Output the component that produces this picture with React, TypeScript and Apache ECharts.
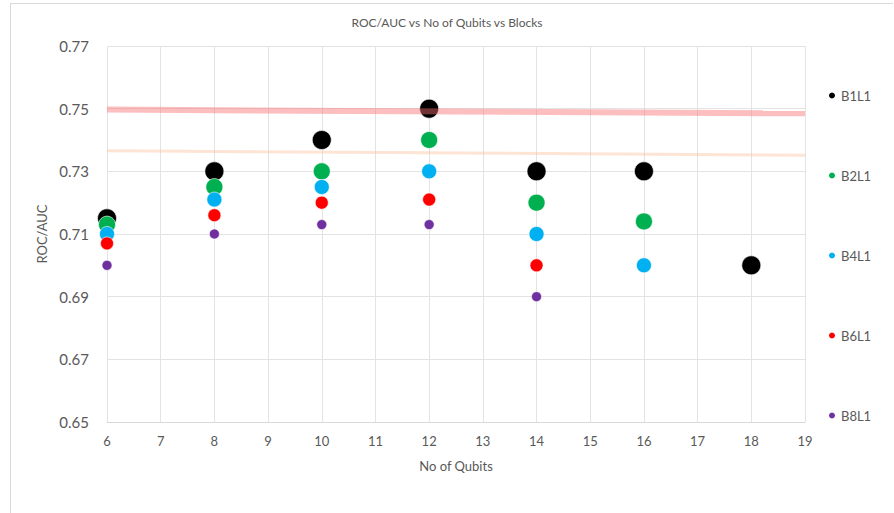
import React, { useEffect, useRef } from "react";
import * as echarts from "echarts";

const seriesNames = ["B1L1", "B2L1", "B4L1", "B6L1", "B8L1"];
const seriesColors = ["#000000", "#00B050", "#00B0F0", "#FF0000", "#7030A0"];
const seriesSizes = [19, 17, 15, 13, 10];

const b1l1: [number, number][] = [[6, 0.715], [8, 0.73], [10, 0.74], [12, 0.75], [14, 0.73], [16, 0.73], [18, 0.70]];
const b2l1: [number, number][] = [[6, 0.713], [8, 0.725], [10, 0.73], [12, 0.74], [14, 0.72], [16, 0.714]];
const b4l1: [number, number][] = [[6, 0.71], [8, 0.721], [10, 0.725], [12, 0.73], [14, 0.71], [16, 0.70]];
const b6l1: [number, number][] = [[6, 0.707], [8, 0.716], [10, 0.72], [12, 0.721], [14, 0.70]];
const b8l1: [number, number][] = [[6, 0.70], [8, 0.71], [10, 0.713], [12, 0.713], [14, 0.69]];
const seriesData = [b1l1, b2l1, b4l1, b6l1, b8l1];

const trendA: [number, number][] = [[6, 0.7497], [19, 0.7485]];
const trendB: [number, number][] = [[6, 0.7366], [19, 0.7351]];

const FONT = "Lato, 'Open Sans', sans-serif";
const GREY = "#595959";

export default function App() {
  const ref = useRef<HTMLDivElement>(null);
  useEffect(() => {
    if (!ref.current) return;
    const chart = echarts.init(ref.current, null, { renderer: "svg" });
    const scatterSeries = seriesNames.map((name, i) => ({
      name,
      type: "scatter",
      data: seriesData[i],
      symbol: "circle",
      symbolSize: seriesSizes[i],
      itemStyle: { color: seriesColors[i], borderColor: "#ffffff", borderWidth: 0.6, opacity: 1 },
      z: 2,
    }));
    chart.setOption({
      animation: false,
      backgroundColor: "#ffffff",
      textStyle: { fontFamily: FONT },
      title: {
        text: "ROC/AUC vs No of Qubits vs Blocks",
        left: "center",
        top: 11,
        textStyle: { fontFamily: FONT, fontSize: 12, fontWeight: "normal", color: GREY },
      },
      graphic: [
        { type: "line", shape: { x1: 10, y1: 3.5, x2: 893, y2: 3.5 }, style: { stroke: "#D9D9D9", lineWidth: 1 } },
        { type: "line", shape: { x1: 10.5, y1: 3, x2: 10.5, y2: 513 }, style: { stroke: "#D9D9D9", lineWidth: 1 } },
      ],
      legend: {
        orient: "vertical",
        left: 822,
        top: 84,
        itemWidth: 8,
        itemHeight: 14,
        itemGap: 67,
        icon: "circle",
        data: seriesNames,
        textStyle: { fontFamily: FONT, fontSize: 13, color: GREY },
      },
      grid: { left: 107, right: 89, top: 46, bottom: 91, containLabel: false },
      xAxis: {
        type: "value",
        min: 6,
        max: 19,
        interval: 1,
        name: "No of Qubits",
        nameLocation: "middle",
        nameGap: 37,
        nameTextStyle: { fontFamily: FONT, fontSize: 13, color: GREY },
        axisLine: { show: true, lineStyle: { color: "#D9D9D9" } },
        axisTick: { show: false },
        axisLabel: { fontFamily: FONT, fontSize: 13, color: GREY, margin: 12 },
        splitLine: { show: true, lineStyle: { color: "#E3E3E3" } },
      },
      yAxis: {
        type: "value",
        min: 0.65,
        max: 0.77,
        interval: 0.02,
        name: "ROC/AUC",
        nameLocation: "middle",
        nameGap: 42,
        nameTextStyle: { fontFamily: FONT, fontSize: 13, color: GREY },
        axisLine: { show: false },
        axisTick: { show: false },
        axisLabel: {
          fontFamily: FONT,
          fontSize: 15,
          color: GREY,
          margin: 18,
          formatter: (v: number) => v.toFixed(2),
        },
        splitLine: { show: true, lineStyle: { color: "#E3E3E3" } },
      },
      series: [
        ...scatterSeries,
        {
          name: "trendA",
          type: "line",
          data: trendA,
          symbol: "none",
          lineStyle: { color: "rgba(248, 110, 110, 0.45)", width: 6 },
          silent: true,
          z: 3,
        },
        {
          name: "trendB",
          type: "line",
          data: trendB,
          symbol: "none",
          lineStyle: { color: "rgba(250, 195, 160, 0.45)", width: 3 },
          silent: true,
          z: 3,
        },
      ],
    });
    return () => chart.dispose();
  }, []);
  return (
    <div
      ref={ref}
      style={{ position: "fixed", left: 0, top: 0, width: 894, height: 513 }}
    />
  );
}
